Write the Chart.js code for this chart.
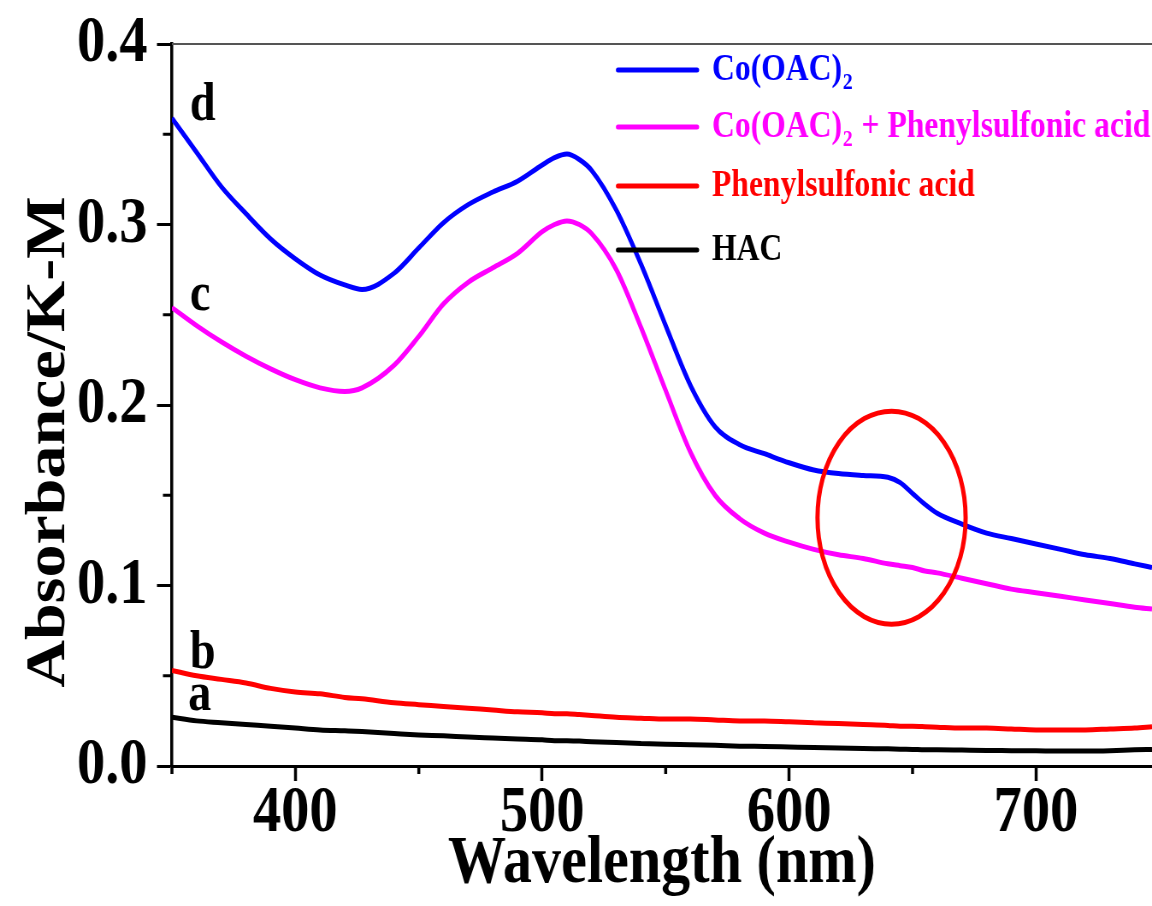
<!DOCTYPE html>
<html>
<head>
<meta charset="utf-8">
<script src="https://cdn.jsdelivr.net/npm/chart.js@4.4.1/dist/chart.umd.min.js"></script>
<style>
  html, body { margin: 0; padding: 0; background: #ffffff; overflow: hidden; }
</style>
</head>
<body>
<canvas id="chart" width="1347" height="906" style="display:block;width:1152px;height:906px;"></canvas>
<script>
// ---- data ----
const wavelengths = [350,360,370,380,390,400,410,420,427,440,450,460,470,480,490,500,505,510,515,520,530,540,550,560,570,580,590,600,610,620,630,640,645,650,655,660,670,680,690,700,710,720,730,740,747];
const coOAC = [0.359,0.340,0.321,0.306,0.292,0.281,0.272,0.2665,0.264,0.273,0.287,0.301,0.311,0.318,0.324,0.333,0.337,0.339,0.336,0.330,0.308,0.278,0.244,0.211,0.188,0.178,0.173,0.168,0.164,0.162,0.161,0.160,0.157,0.151,0.145,0.140,0.134,0.129,0.126,0.123,0.120,0.117,0.115,0.112,0.110];
const coOACPhenyl = [0.254,0.244,0.235,0.227,0.220,0.214,0.2095,0.2075,0.2095,0.222,0.238,0.256,0.268,0.276,0.284,0.296,0.300,0.302,0.300,0.295,0.275,0.243,0.208,0.174,0.150,0.137,0.129,0.124,0.120,0.117,0.115,0.112,0.111,0.110,0.108,0.107,0.104,0.101,0.098,0.096,0.094,0.092,0.090,0.088,0.087];
const phenyl = [0.053,0.050,0.048,0.046,0.043,0.041,0.040,0.038,0.0372,0.035,0.034,0.033,0.032,0.031,0.030,0.0295,0.029,0.029,0.0285,0.028,0.027,0.0265,0.026,0.026,0.0255,0.025,0.025,0.0245,0.024,0.0235,0.023,0.0225,0.022,0.022,0.0218,0.0215,0.021,0.021,0.0205,0.020,0.020,0.020,0.0205,0.021,0.0217];
const hac = [0.027,0.025,0.024,0.023,0.022,0.021,0.020,0.0195,0.0191,0.018,0.0172,0.0167,0.016,0.0155,0.015,0.0145,0.014,0.014,0.0138,0.0135,0.013,0.0125,0.012,0.0118,0.0115,0.011,0.0108,0.0105,0.0102,0.010,0.0097,0.0095,0.0093,0.0092,0.009,0.009,0.0088,0.0086,0.0085,0.0084,0.0083,0.0083,0.0085,0.009,0.0092];

const seriesLabels = ['Co(OAC)\u2082', 'Co(OAC)\u2082 + Phenylsulfonic acid', 'Phenylsulfonic acid', 'HAC'];
const seriesColors = ['#0000ff', '#ff00ff', '#ff0000', '#000000'];
const curveLetters = ['d', 'c', 'b', 'a'];
const xMajorTicks = [400, 500, 600, 700];
const xMinorTicks = [350, 450, 550, 650];
const yMinorTicks = [0.05, 0.15, 0.25, 0.35];
const xTitle = 'Wavelength (nm)';
const yTitle = 'Absorbance/K-M';

// ---- styling ----
const SERIF = '"Liberation Serif", "Times New Roman", serif';
const SX = 1152 / 1347; // horizontal display compression of the canvas

function toPoints(ys) { return wavelengths.map((w, i) => ({ x: w, y: ys[i] })); }
const allSeries = [coOAC, coOACPhenyl, phenyl, hac];

const datasets = allSeries.map((ys, i) => ({
  label: seriesLabels[i],
  data: toPoints(ys),
  borderColor: seriesColors[i],
  backgroundColor: seriesColors[i],
  borderWidth: 5,
  pointRadius: 0,
  cubicInterpolationMode: 'monotone',
  fill: false
}));

const decorations = {
  id: 'decorations',
  afterDatasetsDraw(chart) {
    const { ctx, chartArea: a, scales: { x, y } } = chart;
    ctx.save();
    // top frame line
    ctx.strokeStyle = '#555555';
    ctx.lineWidth = 2;
    ctx.beginPath();
    ctx.moveTo(a.left, a.top);
    ctx.lineTo(a.right, a.top);
    ctx.stroke();

    // minor ticks
    ctx.strokeStyle = '#000';
    ctx.lineWidth = 3.5;
    xMinorTicks.forEach(v => {
      const px = x.getPixelForValue(v);
      ctx.beginPath(); ctx.moveTo(px, a.bottom); ctx.lineTo(px, a.bottom + 8); ctx.stroke();
    });
    ctx.lineWidth = 3;
    yMinorTicks.forEach(v => {
      const py = y.getPixelForValue(v);
      ctx.beginPath(); ctx.moveTo(a.left, py); ctx.lineTo(a.left - 10.5, py); ctx.stroke();
    });

    // y axis title (rotated)
    ctx.save();
    ctx.translate(64 / SX, (a.top + a.bottom) / 2 + 37);
    ctx.rotate(-Math.PI / 2);
    ctx.fillStyle = '#000';
    ctx.font = 'bold 66px ' + SERIF;
    ctx.textAlign = 'center';
    ctx.textBaseline = 'alphabetic';
    ctx.fillText(yTitle, 0, 0);
    ctx.restore();

    // highlight ellipse
    const cx = x.getPixelForValue(641.5), cy = y.getPixelForValue(0.1376);
    const rx = x.getPixelForValue(671.5) - cx, ry = cy - y.getPixelForValue(0.1966);
    ctx.strokeStyle = '#ff0000';
    ctx.lineWidth = 5;
    ctx.beginPath();
    ctx.ellipse(cx, cy, rx, ry, 0, 0, Math.PI * 2);
    ctx.stroke();

    // curve letters
    ctx.fillStyle = '#000';
    ctx.font = 'bold 54px ' + SERIF;
    ctx.textAlign = 'left';
    ctx.textBaseline = 'alphabetic';
    const letterY = [0.3577, 0.2525, 0.0543, 0.031];
    const letterX = [357.3, 357.3, 357.3, 356.6];
    curveLetters.forEach((t, i) => {
      ctx.fillText(t, x.getPixelForValue(letterX[i]), y.getPixelForValue(letterY[i]));
    });

    // legend
    const rowY = [70, 127, 186, 250];
    const lineX0 = 618 / SX, lineX1 = 697 / SX, textX = 712 / SX;
    chart.data.datasets.forEach((ds, i) => {
      const yy = rowY[i];
      ctx.strokeStyle = ds.borderColor;
      ctx.lineWidth = 5;
      ctx.lineCap = 'round';
      ctx.beginPath(); ctx.moveTo(lineX0, yy); ctx.lineTo(lineX1, yy); ctx.stroke();
      ctx.fillStyle = ds.borderColor;
      ctx.textBaseline = 'middle';
      let cur = textX;
      const parts = ds.label.split('\u2082');
      parts.forEach((p, k) => {
        ctx.font = 'bold 37px ' + SERIF;
        ctx.fillText(p, cur, yy);
        cur += ctx.measureText(p).width;
        if (k < parts.length - 1) {
          ctx.font = 'bold 23px ' + SERIF;
          ctx.fillText('2', cur + 1, yy + 13);
          cur += ctx.measureText('2').width + 2;
        }
      });
    });
    ctx.restore();
  }
};

new Chart(document.getElementById('chart'), {
  type: 'line',
  data: { datasets },
  plugins: [decorations],
  options: {
    responsive: false,
    animation: false,
    devicePixelRatio: 1,
    layout: { padding: { top: 43, left: 0, right: 0, bottom: 0 } },
    plugins: { legend: { display: false }, tooltip: { enabled: false } },
    scales: {
      x: {
        type: 'linear',
        min: 350,
        max: 747,
        afterBuildTicks(scale) { scale.ticks = xMajorTicks.map(v => ({ value: v })); },
        afterFit(scale) { scale.height = 140; },
        border: { display: true, color: '#000', width: 3 },
        grid: { drawOnChartArea: false, drawTicks: true, tickLength: 15, tickWidth: 3.5, tickColor: '#000' },
        ticks: {
          color: '#000',
          padding: 0,
          maxRotation: 0,
          font: { family: SERIF, size: 66, weight: 'bold', lineHeight: 1 },
          callback: v => String(v)
        },
        title: {
          display: true,
          text: xTitle,
          color: '#000',
          font: { family: SERIF, size: 68, weight: 'bold', lineHeight: 1.2 },
          padding: { top: 0, bottom: 1 }
        }
      },
      y: {
        type: 'linear',
        min: 0,
        max: 0.4,
        ticks: {
          stepSize: 0.1,
          color: '#000',
          padding: 11,
          font: { family: SERIF, size: 66, weight: 'bold', lineHeight: 1 },
          callback: v => Number(v).toFixed(1)
        },
        afterFit(scale) { scale.width = 201; },
        border: { display: true, color: '#000', width: 3.5 },
        grid: { drawOnChartArea: false, drawTicks: true, tickLength: 17.5, tickWidth: 3, tickColor: '#000' },
        title: { display: false }
      }
    }
  }
});
</script>
</body>
</html>
